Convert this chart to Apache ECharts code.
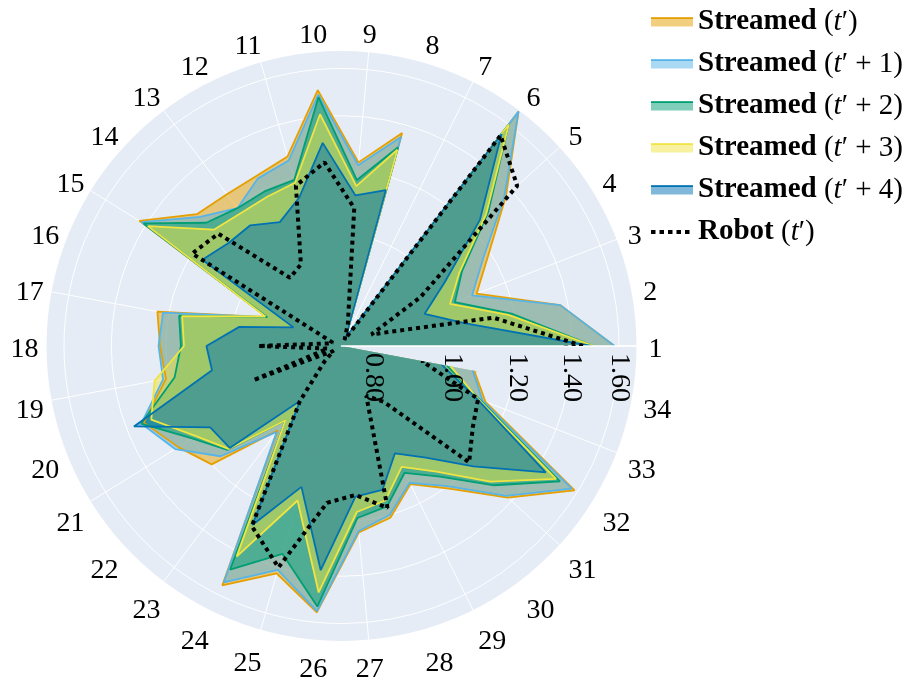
<!DOCTYPE html>
<html>
<head>
<meta charset="utf-8">
<script src="https://cdn.jsdelivr.net/npm/echarts@6/dist/echarts.min.js"></script>
<style>
  html, body { margin: 0; padding: 0; background: #fff; }
  #chart { width: 909px; height: 682px; }
</style>
</head>
<body>
<div id="chart"></div>
<script>
// Joint indices around the polar axis (counter-clockwise from the right)
const categories = ['1','2','3','4','5','6','7','8','9','10','11','12','13','14','15','16','17',
  '18','19','20','21','22','23','24','25','26','27','28','29','30','31','32','33','34'];

// Radial (log) axis
const radialMin = 0.7306;
const radialMax = 1.681;
const radialTicks = [0.8, 1.0, 1.2, 1.4, 1.6];

// Series values, one per joint
const streamedT = [1.58, 1.37, 1.10, 1.19, 1.37, 1.675, 0.75, 1.366, 1.23, 1.51, 1.275, 1.25, 1.25, 1.27, 1.43, 0.915, 1.24,
  1.22, 1.21, 1.33, 1.257, 1.20, 0.985, 1.555, 1.425, 1.555, 1.24, 1.21, 1.13, 1.21, 1.38, 1.585, 1.13, 1.07];
const streamedT1 = [1.58, 1.37, 1.085, 1.17, 1.36, 1.675, 0.75, 1.35, 1.22, 1.49, 1.26, 1.24, 1.19, 1.255, 1.42, 0.915, 1.22,
  1.225, 1.22, 1.34, 1.27, 1.16, 0.99, 1.54, 1.41, 1.55, 1.235, 1.20, 1.125, 1.20, 1.37, 1.57, 1.12, 1.065];
const streamedT2 = [1.49, 1.195, 1.03, 1.09, 1.28, 1.60, 0.75, 1.31, 1.17, 1.48, 1.19, 1.19, 1.19, 1.225, 1.41, 0.915, 1.165,
  1.15, 1.18, 1.34, 1.20, 1.13, 0.95, 1.48, 1.345, 1.53, 1.19, 1.17, 1.09, 1.16, 1.31, 1.51, 1.11, 0.99];
const streamedT3 = [1.49, 1.18, 1.015, 1.08, 1.27, 1.60, 0.75, 1.30, 1.15, 1.41, 1.18, 1.17, 1.17, 1.19, 1.39, 0.92, 1.155,
  1.14, 1.25, 1.30, 1.185, 1.125, 0.95, 1.42, 1.15, 1.47, 1.17, 1.15, 1.07, 1.14, 1.29, 1.49, 1.105, 1.0];
const streamedT4 = [1.48, 1.04, 0.94, 1.03, 1.24, 1.547, 0.75, 1.155, 1.12, 1.30, 1.13, 1.08, 1.12, 1.125, 1.16, 0.845, 0.98,
  1.07, 1.06, 1.37, 1.13, 1.12, 0.888, 1.285, 1.105, 1.38, 1.12, 1.115, 1.025, 1.085, 1.21, 1.44, 1.10, 0.975];
const robotT = [1.445, 1.13, 0.80, 0.95, 1.43, 1.54, 0.745, 0.78, 1.08, 1.23, 1.17, 0.945, 0.93, 1.17, 1.20, 0.75, 0.76,
  0.925, 0.76, 0.955, 0.75, 0.78, 0.888, 1.29, 1.40, 1.14, 1.115, 1.175, 0.855, 0.89, 1.19, 1.13, 1.105, 0.92];

const seriesNames = ['Streamed (t′)', 'Streamed (t′ + 1)', 'Streamed (t′ + 2)', 'Streamed (t′ + 3)', 'Streamed (t′ + 4)', 'Robot (t′)'];
const lineColors = ['#E69F00', '#56B4E9', '#009E73', '#F0E442', '#0072B2', '#000000'];
const streamedValues = [streamedT, streamedT1, streamedT2, streamedT3, streamedT4];

const FONT = '"Liberation Serif", "Times New Roman", serif';
const AXIS_FONT = 28;
const LEGEND_FONT = 29;
const CENTER = [341.5, 346];
const RADIUS = 295;
const TEXT = '#000';

// Close each polygon by returning to the first joint
function closedRing(values) {
  const pts = values.map((v, i) => [v, categories[i]]);
  pts.push([values[0], categories[0]]);
  return pts;
}

function hexToRgba(hex, a) {
  const n = parseInt(hex.slice(1), 16);
  return 'rgba(' + ((n >> 16) & 255) + ',' + ((n >> 8) & 255) + ',' + (n & 255) + ',' + a + ')';
}

function legendText(name) {
  const m = name.match(/^(\S+) \(t′(.*)\)$/);
  return '{b|' + m[1] + '} {n|(}{i|t}{n|′' + m[2] + ')}';
}

function richStyles(color) {
  const base = { fontFamily: FONT, fontSize: LEGEND_FONT, color: color, lineHeight: 32 };
  return {
    b: Object.assign({ fontWeight: 'bold' }, base),
    n: Object.assign({}, base),
    i: Object.assign({ fontStyle: 'italic' }, base)
  };
}

const dotIcon = 'path://M0,0Z M42,9Z M0,2.5h4.5v4h-4.5Z M8.5,2.5h4.5v4h-4.5Z M17,2.5h4.5v4h-4.5Z M25.5,2.5h4.5v4h-4.5Z M34,2.5h4.5v4h-4.5Z';

// Angular tick labels sit just outside the disc: anchored by their near side,
// nudged so that upper and lower labels clear the rim evenly.
const angleLabelData = categories.map((c, i) => {
  const th = i * 2 * Math.PI / categories.length;
  const cs = Math.cos(th), sn = Math.sin(th);
  const align = Math.abs(cs) < 0.1 ? 'center' : (cs > 0 ? 'left' : 'right');
  let dy = -(sn > 0 ? 7 : 16) * sn + 2 * Math.abs(cs) + 2;
  if (sn < -0.05 && Math.abs(cs) > 0.1) dy += 4;
  if (sn < -0.1 && sn > -0.3) dy -= 3;
  const dx = align === 'right' ? 4 : 0;
  return { value: [1, c], label: { align: align, offset: [dx, dy] } };
});

const series = streamedValues.map((vals, k) => ({
  name: seriesNames[k],
  type: 'line',
  coordinateSystem: 'polar',
  polarIndex: 0,
  data: closedRing(vals),
  symbol: 'none',
  silent: true,
  z: 2,
  lineStyle: { color: lineColors[k], width: 1.8 },
  itemStyle: { color: lineColors[k] },
  areaStyle: { color: lineColors[k], opacity: 0.5, origin: 'start' }
}));

series.push({
  name: seriesNames[5],
  type: 'line',
  coordinateSystem: 'polar',
  polarIndex: 0,
  data: closedRing(robotT),
  symbol: 'none',
  silent: true,
  z: 4,
  lineStyle: { color: '#000', width: 4, type: [4, 4], cap: 'butt' },
  itemStyle: { color: '#000' }
});

series.push({
  name: 'angle labels',
  type: 'scatter',
  coordinateSystem: 'polar',
  polarIndex: 3,
  data: angleLabelData,
  symbol: 'circle',
  symbolSize: 1,
  silent: true,
  z: 5,
  itemStyle: { color: 'rgba(0,0,0,0)', opacity: 1 },
  label: {
    show: true,
    position: 'inside',
    verticalAlign: 'middle',
    formatter: p => p.value[1],
    color: TEXT,
    opacity: 1,
    textBorderWidth: 0,
    textBorderColor: 'transparent',
    fontFamily: FONT,
    fontSize: AXIS_FONT
  }
});

const hiddenAngle = (idx) => ({
  polarIndex: idx, type: 'category', data: categories, startAngle: 0, clockwise: false, boundaryGap: false, show: false
});

const option = {
  animation: false,
  backgroundColor: '#ffffff',
  polar: [
    { center: CENTER, radius: RADIUS },        // data, grid
    { center: CENTER, radius: RADIUS },        // radial axis line and labels (above data)
    { center: CENTER, radius: RADIUS },        // disc background
    { center: CENTER, radius: RADIUS + 12 }    // angular labels
  ],
  angleAxis: [
    {
      polarIndex: 0,
      type: 'category',
      data: categories,
      startAngle: 0,
      clockwise: false,
      boundaryGap: false,
      z: 1,
      axisLine: { show: false },
      axisTick: { show: false },
      axisLabel: { show: false },
      splitLine: { show: true, interval: 0, lineStyle: { color: '#ffffff', width: 1 } },
      splitArea: { show: false }
    },
    hiddenAngle(1),
    hiddenAngle(2),
    hiddenAngle(3)
  ],
  radiusAxis: [
    {
      polarIndex: 0,
      type: 'log',
      min: radialMin,
      max: radialMax,
      z: 1,
      axisLine: { show: false },
      axisTick: { show: false, customValues: radialTicks },
      axisLabel: { show: false },
      splitLine: { show: true, lineStyle: { color: '#ffffff', width: 1 } },
      splitArea: { show: false }
    },
    {
      polarIndex: 1,
      type: 'log',
      min: radialMin,
      max: radialMax,
      z: 3,
      axisLine: { show: true, lineStyle: { color: '#ffffff', width: 1.5 } },
      axisTick: { show: false, customValues: radialTicks },
      axisLabel: {
        show: true,
        customValues: radialTicks,
        rotate: -90,
        margin: -7,
        align: 'left',
        verticalAlign: 'middle',
        padding: [0, 0, 6, 0],
        color: TEXT,
        fontFamily: FONT,
        fontSize: AXIS_FONT,
        formatter: v => Number(v).toFixed(2)
      },
      splitLine: { show: false },
      splitArea: { show: false }
    },
    {
      polarIndex: 2,
      type: 'value',
      min: 0,
      max: 1,
      interval: 1,
      z: 0,
      axisLine: { show: false },
      axisTick: { show: false },
      axisLabel: { show: false },
      splitLine: { show: false },
      splitArea: { show: true, areaStyle: { color: ['#E5ECF6'] } }
    },
    {
      polarIndex: 3,
      type: 'value',
      min: 0,
      max: 1,
      show: false
    }
  ],
  legend: [
    {
      orient: 'vertical',
      left: 651,
      top: 6,
      padding: 0,
      itemWidth: 42,
      itemHeight: 9,
      itemGap: 10,
      selectedMode: false,
      data: seriesNames.map((name, k) => k < 5
        ? { name: name, icon: 'rect', itemStyle: { color: hexToRgba(lineColors[k], 0.5), borderWidth: 0 } }
        : { name: name, icon: dotIcon, itemStyle: { color: '#000', borderWidth: 0 } }),
      formatter: legendText,
      textStyle: { fontFamily: FONT, fontSize: LEGEND_FONT, color: TEXT, lineHeight: 32, rich: richStyles(TEXT) }
    },
    {
      orient: 'vertical',
      left: 651,
      top: 2.2,
      padding: 0,
      itemWidth: 42,
      itemHeight: 1.8,
      itemGap: 10,
      selectedMode: false,
      data: seriesNames.slice(0, 5).map((name, k) => ({ name: name, icon: 'rect', itemStyle: { color: lineColors[k], borderWidth: 0 } })),
      formatter: legendText,
      textStyle: { fontFamily: FONT, fontSize: LEGEND_FONT, color: 'rgba(0,0,0,0)', lineHeight: 32, rich: richStyles('rgba(0,0,0,0)') }
    }
  ],
  series: series
};

const chart = echarts.init(document.getElementById('chart'), null, { renderer: 'canvas' });
chart.setOption(option);
</script>
</body>
</html>
